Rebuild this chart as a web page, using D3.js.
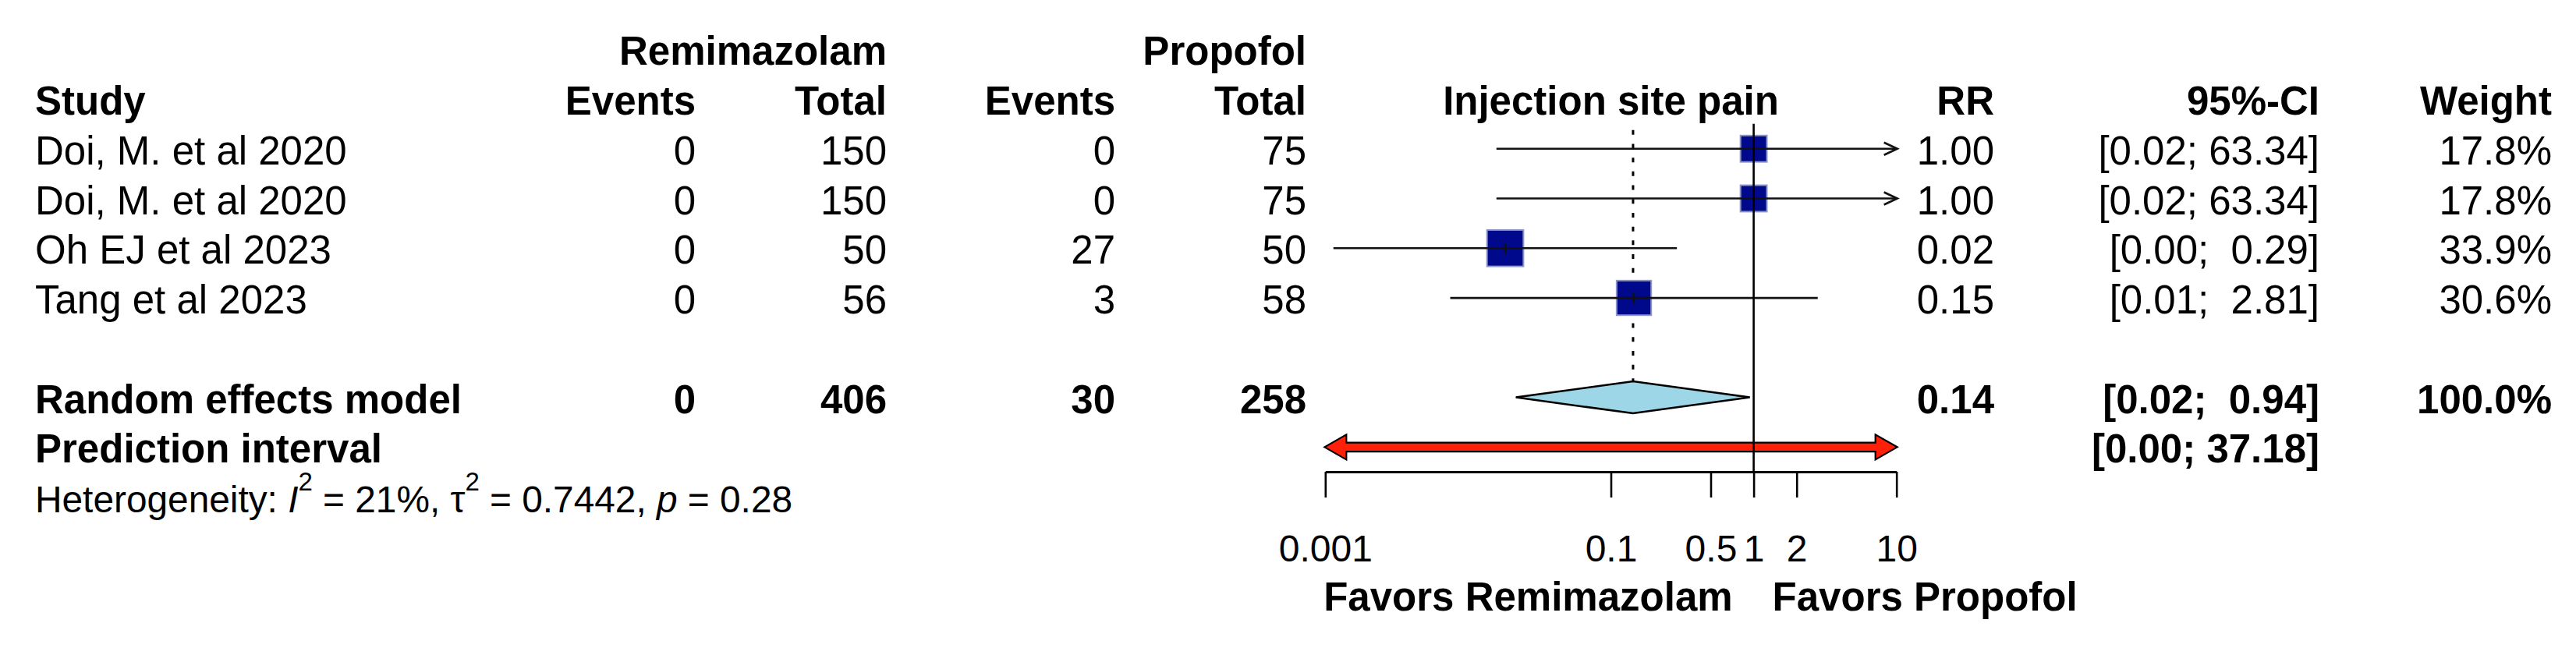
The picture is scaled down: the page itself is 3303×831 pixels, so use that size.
<!DOCTYPE html>
<html><head><meta charset="utf-8">
<script src="https://cdn.jsdelivr.net/npm/d3@7/dist/d3.min.js"></script>
<style>
body{margin:0;background:#fff}
text{font-family:"Liberation Sans",Arial,Helvetica,sans-serif;white-space:pre;fill:#000}
</style>
</head><body>
<svg id="chart" width="3303" height="831"></svg>
<script>
// ---- data ----
const studies = ["Doi, M. et al 2020", "Doi, M. et al 2020", "Oh EJ et al 2023", "Tang et al 2023"];
const eventsRemi = [0, 0, 0, 0];
const totalRemi = [150, 150, 50, 56];
const eventsProp = [0, 0, 27, 3];
const totalProp = [75, 75, 50, 58];
const rr = [1.00, 1.00, 0.0182, 0.145];
const ciLower = [0.0158, 0.0158, 0.00114, 0.0075];
const ciUpper = [63.34, 63.34, 0.29, 2.81];
const rrText = ["1.00", "1.00", "0.02", "0.15"];
const ciText = ["[0.02; 63.34]", "[0.02; 63.34]", "[0.00;  0.29]", "[0.01;  2.81]"];
const weights = [17.8, 17.8, 33.9, 30.6];
const weightText = ["17.8%", "17.8%", "33.9%", "30.6%"];

const pooledLabel = "Random effects model";
const pooledEvents = [0, 406, 30, 258];
const pooledRR = 0.143, pooledLower = 0.0216, pooledUpper = 0.94;
const pooledRRText = "0.14", pooledCIText = "[0.02;  0.94]", pooledWeightText = "100.0%";
const predLabel = "Prediction interval";
const predLower = 0.00055, predUpper = 37.18;
const predCIText = "[0.00; 37.18]";

const tickValues = [0.001, 0.1, 0.5, 1, 2, 10];
const tickLabels = ["0.001", "0.1", "0.5", "1", "2", "10"];
const xDomain = [0.001, 10];

// ---- layout ----
const svg = d3.select("#chart");
const x = d3.scaleLog().domain(xDomain).range([1699.3, 2431.7]);
const y = d3.scaleLinear().domain([0, 9]).range([63.2, 637.1]);
const sq = d3.scaleSqrt().domain([0, d3.max(weights)]).range([0, 46.7]);
const FS = 51, BASE = 20;
const axisY = 605;

function txt(xp, row, s, anchor, bold, size) {
  return svg.append("text").attr("x", xp).attr("y", y(row) + BASE)
    .attr("text-anchor", anchor || "start")
    .attr("font-size", size || FS)
    .attr("font-weight", bold ? "bold" : "normal")
    .text(s);
}

const col = {study: 45, evR: 892, totR: 1137, evP: 1430, totP: 1675, rr: 2557, ci: 2974, w: 3272};

// headers
txt(col.totR, 0, "Remimazolam", "end", true);
txt(col.totP, 0, "Propofol", "end", true);
txt(col.study, 1, "Study", "start", true);
txt(col.evR, 1, "Events", "end", true);
txt(col.totR, 1, "Total", "end", true);
txt(col.evP, 1, "Events", "end", true);
txt(col.totP, 1, "Total", "end", true);
txt(x(Math.sqrt(xDomain[0] * xDomain[1])), 1, "Injection site pain", "middle", true);
txt(col.rr, 1, "RR", "end", true);
txt(col.ci, 1, "95%-CI", "end", true);
txt(col.w, 1, "Weight", "end", true);

// study rows text
studies.forEach((s, i) => {
  const r = i + 2;
  txt(col.study, r, s, "start");
  txt(col.evR, r, String(eventsRemi[i]), "end");
  txt(col.totR, r, String(totalRemi[i]), "end");
  txt(col.evP, r, String(eventsProp[i]), "end");
  txt(col.totP, r, String(totalProp[i]), "end");
  txt(col.rr, r, rrText[i], "end");
  txt(col.ci, r, ciText[i], "end");
  txt(col.w, r, weightText[i], "end");
});

// pooled rows
txt(col.study, 7, pooledLabel, "start", true);
txt(col.evR, 7, String(pooledEvents[0]), "end", true);
txt(col.totR, 7, String(pooledEvents[1]), "end", true);
txt(col.evP, 7, String(pooledEvents[2]), "end", true);
txt(col.totP, 7, String(pooledEvents[3]), "end", true);
txt(col.rr, 7, pooledRRText, "end", true);
txt(col.ci, 7, pooledCIText, "end", true);
txt(col.w, 7, pooledWeightText, "end", true);
txt(col.study, 8, predLabel, "start", true);
txt(col.ci, 8, predCIText, "end", true);

// heterogeneity
const het = svg.append("text").attr("x", col.study).attr("y", y(9) + BASE).attr("font-size", 47.8);
het.append("tspan").text("Heterogeneity: ");
het.append("tspan").attr("font-style", "italic").text("I");
het.append("tspan").attr("font-size", 33).attr("dy", -28).text("2");
het.append("tspan").attr("dy", 28).text(" = 21%, τ");
het.append("tspan").attr("font-size", 33).attr("dy", -28).text("2");
het.append("tspan").attr("dy", 28).text(" = 0.7442, ");
het.append("tspan").attr("font-style", "italic").text("p");
het.append("tspan").text(" = 0.28");

// ---- forest plot ----
const g = svg.append("g");
const topY = y(2) - 32;

// dashed pooled line
g.append("line").attr("x1", x(pooledRR)).attr("x2", x(pooledRR))
  .attr("y1", topY + 8).attr("y2", y(7) - 20.5)
  .attr("stroke", "#000").attr("stroke-width", 3).attr("stroke-dasharray", "6,11.7");

// study CIs
studies.forEach((s, i) => {
  const cy = y(i + 2);
  const lo = Math.max(ciLower[i], xDomain[0]), hi = Math.min(ciUpper[i], xDomain[1]);
  const side = sq(weights[i]);
  g.append("rect").attr("x", x(rr[i]) - side / 2).attr("y", cy - side / 2)
    .attr("width", side).attr("height", side)
    .attr("fill", "#00088c").attr("stroke", "#8d96c4").attr("stroke-width", 2);
  g.append("line").attr("x1", x(lo)).attr("x2", x(hi)).attr("y1", cy).attr("y2", cy)
    .attr("stroke", "#111").attr("stroke-width", 2.7);
  g.append("line").attr("x1", x(rr[i])).attr("x2", x(rr[i])).attr("y1", cy - 7).attr("y2", cy + 7)
    .attr("stroke", "#111").attr("stroke-width", 2.5);
  if (ciUpper[i] > xDomain[1]) {
    const xe = x(xDomain[1]) + 1;
    g.append("path").attr("d", `M${xe - 17},${cy - 8}L${xe},${cy}L${xe - 17},${cy + 8}`)
      .attr("fill", "none").attr("stroke", "#111").attr("stroke-width", 2.7);
  }
  if (ciLower[i] < xDomain[0]) {
    const xs = x(xDomain[0]) - 1;
    g.append("path").attr("d", `M${xs + 17},${cy - 8}L${xs},${cy}L${xs + 17},${cy + 8}`)
      .attr("fill", "none").attr("stroke", "#111").attr("stroke-width", 2.7);
  }
});

// diamond
const dy = y(7);
g.append("polygon")
  .attr("points", [[x(pooledLower), dy], [x(pooledRR), dy - 20.5], [x(pooledUpper), dy], [x(pooledRR), dy + 20.5]].map(p => p.join(",")).join(" "))
  .attr("fill", "#9dd6e6").attr("stroke", "#000").attr("stroke-width", 2.5);

// prediction interval arrow
const py = y(8), hb = 5.8, hh = 16, hl = 28;
const pl = x(Math.max(predLower, xDomain[0])) - 1, pr = x(Math.min(predUpper, xDomain[1])) + 1;
const predPts = [
  [pl, py], [pl + hl, py - hh], [pl + hl, py - hb], [pr - hl, py - hb], [pr - hl, py - hh],
  [pr, py], [pr - hl, py + hh], [pr - hl, py + hb], [pl + hl, py + hb], [pl + hl, py + hh]
];
g.append("polygon").attr("points", predPts.map(p => p.join(",")).join(" "))
  .attr("fill", "#ff200a").attr("stroke", "#000").attr("stroke-width", 2.2).attr("stroke-linejoin", "miter");

// reference line at 1
g.append("line").attr("x1", x(1)).attr("x2", x(1)).attr("y1", topY).attr("y2", axisY)
  .attr("stroke", "#000").attr("stroke-width", 2.6);

// axis
const axis = d3.axisBottom(x).tickValues(tickValues).tickFormat((d, i) => tickLabels[i])
  .tickSize(33).tickSizeOuter(0).tickPadding(48);
const ag = svg.append("g").attr("transform", `translate(0,${axisY})`).call(axis);
ag.select(".domain").attr("stroke", "#000").attr("stroke-width", 2.8);
ag.selectAll(".tick line").attr("stroke", "#000").attr("stroke-width", 2.6);
ag.selectAll(".tick text").attr("font-size", 48).attr("font-family", '"Liberation Sans",Arial,sans-serif').attr("fill", "#000");

// favours labels
svg.append("text").attr("x", x(1) - 27).attr("y", 783).attr("text-anchor", "end")
  .attr("font-size", FS).attr("font-weight", "bold").text("Favors Remimazolam");
svg.append("text").attr("x", x(1) + 24).attr("y", 783).attr("text-anchor", "start")
  .attr("font-size", FS).attr("font-weight", "bold").text("Favors Propofol");
</script>
</body></html>
